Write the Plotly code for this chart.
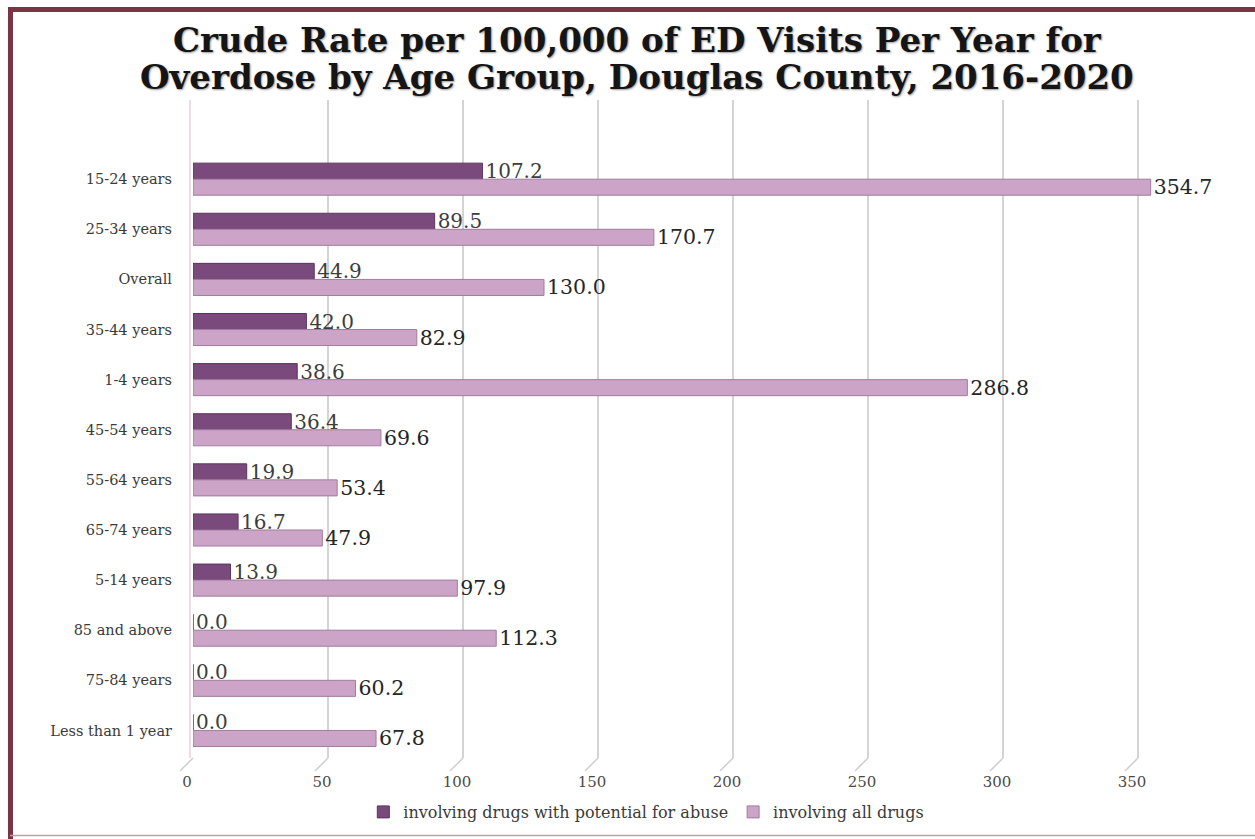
import plotly.graph_objects as go

# Age groups, ordered top to bottom as plotted
categories = [
    "15-24 years", "25-34 years", "Overall", "35-44 years", "1-4 years",
    "45-54 years", "55-64 years", "65-74 years", "5-14 years",
    "85 and above", "75-84 years", "Less than 1 year",
]
abuse_rates = [107.2, 89.5, 44.9, 42.0, 38.6, 36.4, 19.9, 16.7, 13.9, 0.0, 0.0, 0.0]
all_drug_rates = [354.7, 170.7, 130.0, 82.9, 286.8, 69.6, 53.4, 47.9, 97.9, 112.3, 60.2, 67.8]
x_ticks = [0, 50, 100, 150, 200, 250, 300, 350]
title_lines = [
    "Crude Rate per 100,000 of ED Visits Per Year for",
    "Overdose by Age Group, Douglas County, 2016-2020",
]

W, H = 1255, 839
ML, MR, MT, MB = 193, 63, 100, 81
X_MAX = 370

SERIF = "DejaVu Serif"
DARK = "#7b4a7c"
LIGHT = "#cba4c7"


def px_x(px):
    return (px - ML) / (W - ML - MR)


def px_y(py):
    return (H - MB - py) / (H - MT - MB)


fig = go.Figure()
fig.add_trace(go.Bar(
    y=categories, x=abuse_rates, orientation="h",
    name="involving drugs with potential for abuse",
    marker=dict(color=DARK, line=dict(color="#5c335d", width=1)),
    text=[f"{v:.1f}" for v in abuse_rates], textposition="outside",
    textfont=dict(family=SERIF, size=20, color="#3d3d3d"),
    constraintext="none", cliponaxis=False,
))
fig.add_trace(go.Bar(
    y=categories, x=all_drug_rates, orientation="h",
    name="involving all drugs",
    marker=dict(color=LIGHT, line=dict(color="#a07c9d", width=1)),
    text=[f"{v:.1f}" for v in all_drug_rates], textposition="outside",
    textfont=dict(family=SERIF, size=20.5, color="#262626"),
    constraintext="none", cliponaxis=False,
))

shapes = []
# floor perspective ticks under each gridline
for v in x_ticks:
    shapes.append(dict(type="line", xref="paper", yref="paper",
                       x0=v / X_MAX, x1=(v - 13 / 2.7) / X_MAX,
                       y0=0, y1=px_y(771),
                       line=dict(color="#cfcfcf", width=1.5)))
# left wall edge
shapes.append(dict(type="line", xref="paper", yref="paper",
                   x0=px_x(190), x1=px_x(190), y0=px_y(100), y1=px_y(758),
                   line=dict(color="#ecccdc", width=1.5)))
# maroon frame
shapes.append(dict(type="line", xref="paper", yref="paper",
                   x0=px_x(8), x1=px_x(1260), y0=px_y(9.5), y1=px_y(9.5),
                   line=dict(color="#7b3443", width=5)))
shapes.append(dict(type="line", xref="paper", yref="paper",
                   x0=px_x(10.5), x1=px_x(10.5), y0=px_y(7), y1=px_y(845),
                   line=dict(color="#7b3443", width=5)))
shapes.append(dict(type="line", xref="paper", yref="paper",
                   x0=px_x(10), x1=px_x(1260), y0=px_y(835.5), y1=px_y(835.5),
                   line=dict(color="#c99aa6", width=1.5)))

# two-line title, each line placed on its own
title_annotations = [
    dict(text=f"<b>{line}</b>", showarrow=False,
         xref="paper", yref="paper",
         x=px_x(637), xanchor="center", y=px_y(cy), yanchor="middle",
         font=dict(family=SERIF, size=34, color="#151515",
                   shadow="1px 1px 2px #9a9a9a"))
    for line, cy in zip(title_lines, [40, 77])
]

fig.update_layout(
    width=W, height=H,
    margin=dict(l=ML, r=MR, t=MT, b=MB, pad=0, autoexpand=False),
    paper_bgcolor="white", plot_bgcolor="white",
    barmode="group", bargap=0.36, bargroupgap=0.0,
    xaxis=dict(
        range=[0, X_MAX], tickvals=x_ticks, ticktext=[str(t) for t in x_ticks],
        showgrid=True, gridcolor="#d4d4d4", gridwidth=1.5,
        zeroline=False, showline=False, ticks="",
        ticklabelstandoff=13, ticklabelshift=-6,
        tickfont=dict(family=SERIF, size=15, color="#4a4a4a"),
    ),
    yaxis=dict(
        type="category", categoryorder="array", categoryarray=categories,
        range=[11.55, -1.58],
        showgrid=False, zeroline=False, showline=False, ticks="",
        ticklabelstandoff=20,
        tickfont=dict(family=SERIF, size=14.5, color="#3a3a3a"),
    ),
    legend=dict(
        orientation="h", xref="container", yref="container",
        x=0.515, xanchor="center", y=1 - 812 / H, yanchor="middle",
        font=dict(family=SERIF, size=16, color="#3a3a3a"),
        bgcolor="rgba(0,0,0,0)",
        itemwidth=30, traceorder="normal",
    ),
    annotations=title_annotations,
    shapes=shapes,
    showlegend=True,
)

fig.write_html("out.html")
